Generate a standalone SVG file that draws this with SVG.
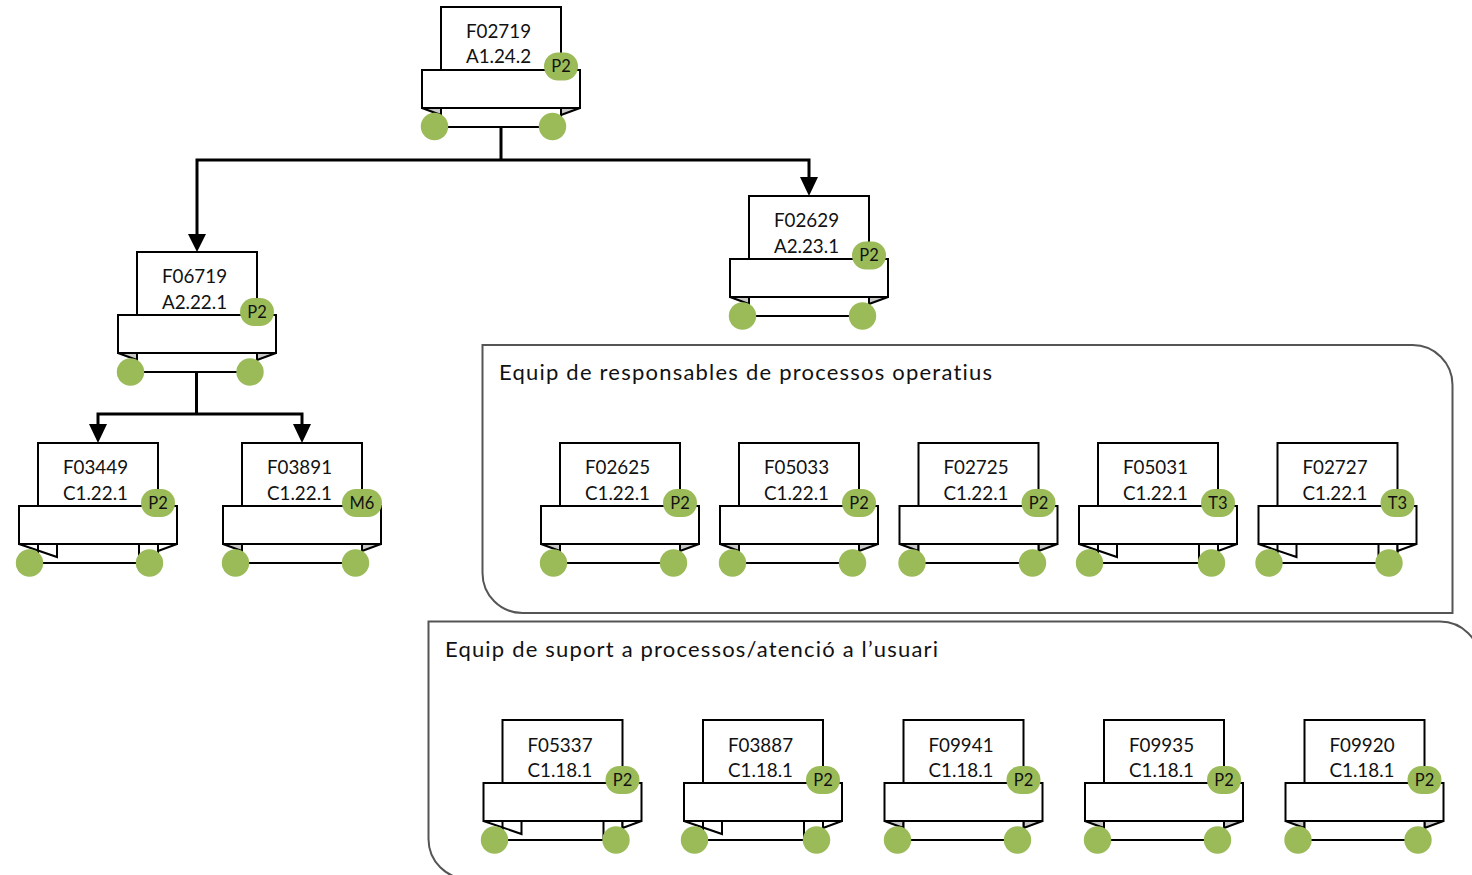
<svg xmlns="http://www.w3.org/2000/svg" xmlns:xlink="http://www.w3.org/1999/xlink" width="1472" height="875" viewBox="0 0 1472 875">
<style>
.s{fill:#fff;stroke:#000;stroke-width:2}
.f{fill:#c9c9c9;stroke:#000;stroke-width:2;stroke-linejoin:miter}
.w{fill:#fff;stroke:#000;stroke-width:2}
.p{fill:none;stroke:#555;stroke-width:2}
.g{fill:#9bbb59}
.c{fill:none;stroke:#000;stroke-width:3}
.h{fill:#000}
text{font-family:"Lato","Open Sans",sans-serif;fill:#111;font-variant-ligatures:none}
.t{font-size:18.800px;text-anchor:middle}
.b{font-size:16.500px;text-anchor:middle}
.l{font-size:22px}
</style>
<defs>
<g id="n">
<rect class="s" x="0" y="0" width="120" height="70"/>
<path class="f" d="M-19 101L0 108V101Z"/>
<path class="f" d="M139 101L120 108V101Z"/>
<path class="s" d="M0 101V120H120V101"/>
<rect class="s" x="-19" y="63" width="158" height="38"/>
</g>
<g id="m">
<rect class="s" x="0" y="0" width="120" height="70"/>
<path class="s" d="M0 101V120H120V101"/>
<path class="w" d="M-19 101L19 114V101Z"/>
<path class="s" d="M0 101V107.500"/>
<path class="w" d="M101 101V120M139 101L120 108V101Z"/>
<rect class="s" x="-19" y="63" width="158" height="38"/>
</g>
<circle id="d" class="g" r="13.700"/>
<rect id="p" class="g" x="-17" y="-14" width="34" height="28" rx="14"/>
</defs>
<g id="panel-operatius">
<path class="p" d="M482.500 345H1412.500A40 40 0 0 1 1452.500 385V613H522.500A40 40 0 0 1 482.500 573Z"/>
<text class="l" x="499" y="380" textLength="493">Equip de responsables de processos operatius</text>
</g>
<g id="panel-suport">
<path class="p" d="M1480 661.500A40 40 0 0 0 1440 621.500H428.500V839A40 40 0 0 0 468.500 879"/>
<text class="l" x="445" y="657" textLength="493">Equip de suport a processos/atenció a l’usuari</text>
</g>
<g id="connectors">
<path class="c" d="M501 126V160M197 236V160H809V180"/>
<path class="h" d="M188 234H206L197 252ZM800 177H818L809 196Z"/>
<path class="c" d="M196.500 372V414M98 428V414H302V428"/>
<path class="h" d="M89 424H107L98 443ZM293 424H311L302 443Z"/>
</g>
<g id="F02719" transform="translate(441,7)"><use href="#n"/><text class="t" x="57.500" y="31">F02719</text><text class="t" x="57.500" y="56">A1.24.2</text><use href="#p" x="120" y="59.500"/><text class="b" x="120" y="65">P2</text><use href="#d" x="-6.500" y="119.500"/><use href="#d" x="111.500" y="119.500"/></g>
<g id="F02629" transform="translate(749,196)"><use href="#n"/><text class="t" x="57.500" y="31">F02629</text><text class="t" x="57.500" y="57">A2.23.1</text><use href="#p" x="120" y="59.500"/><text class="b" x="120" y="65">P2</text><use href="#d" x="-6.500" y="120"/><use href="#d" x="113.500" y="120"/></g>
<g id="F06719" transform="translate(137,252)"><use href="#n"/><text class="t" x="57.500" y="31">F06719</text><text class="t" x="57.500" y="57">A2.22.1</text><use href="#p" x="120" y="60"/><text class="b" x="120" y="66">P2</text><use href="#d" x="-6.500" y="120"/><use href="#d" x="113" y="120"/></g>
<g id="F03449" transform="translate(38,443)"><use href="#m"/><text class="t" x="57.500" y="31">F03449</text><text class="t" x="57.500" y="57">C1.22.1</text><use href="#p" x="120" y="60"/><text class="b" x="120" y="66">P2</text><use href="#d" x="-8.500" y="120"/><use href="#d" x="111.500" y="120"/></g>
<g id="F03891" transform="translate(242,443)"><use href="#n"/><text class="t" x="57.500" y="31">F03891</text><text class="t" x="57.500" y="57">C1.22.1</text><rect class="g" x="100" y="46" width="40" height="28" rx="14"/><text class="b" x="120" y="66">M6</text><use href="#d" x="-6.500" y="120"/><use href="#d" x="113.500" y="120"/></g>
<g id="F02625" transform="translate(560,443)"><use href="#n"/><text class="t" x="57.500" y="31">F02625</text><text class="t" x="57.500" y="57">C1.22.1</text><use href="#p" x="120" y="60"/><text class="b" x="120" y="66">P2</text><use href="#d" x="-6.500" y="120"/><use href="#d" x="113.500" y="120"/></g>
<g id="F05033" transform="translate(739,443)"><use href="#n"/><text class="t" x="57.500" y="31">F05033</text><text class="t" x="57.500" y="57">C1.22.1</text><use href="#p" x="120" y="60"/><text class="b" x="120" y="66">P2</text><use href="#d" x="-6.500" y="120"/><use href="#d" x="113.500" y="120"/></g>
<g id="F02725" transform="translate(918.500,443)"><use href="#n"/><text class="t" x="57.500" y="31">F02725</text><text class="t" x="57.500" y="57">C1.22.1</text><use href="#p" x="120" y="60"/><text class="b" x="120" y="66">P2</text><use href="#d" x="-6.500" y="120"/><use href="#d" x="114" y="120"/></g>
<g id="F05031" transform="translate(1098,443)"><use href="#m"/><text class="t" x="57.500" y="31">F05031</text><text class="t" x="57.500" y="57">C1.22.1</text><use href="#p" x="120" y="60"/><text class="b" x="120" y="66">T3</text><use href="#d" x="-8.500" y="120"/><use href="#d" x="113.500" y="120"/></g>
<g id="F02727" transform="translate(1277.500,443)"><use href="#m"/><text class="t" x="57.500" y="31">F02727</text><text class="t" x="57.500" y="57">C1.22.1</text><use href="#p" x="120" y="60"/><text class="b" x="120" y="66">T3</text><use href="#d" x="-8.500" y="120"/><use href="#d" x="111.500" y="120"/></g>
<g id="F05337" transform="translate(502.500,720)"><use href="#m"/><text class="t" x="57.500" y="32">F05337</text><text class="t" x="57.500" y="57">C1.18.1</text><use href="#p" x="120" y="60"/><text class="b" x="120" y="66">P2</text><use href="#d" x="-8" y="120"/><use href="#d" x="113.500" y="120"/></g>
<g id="F03887" transform="translate(703,720)"><use href="#m"/><text class="t" x="57.500" y="32">F03887</text><text class="t" x="57.500" y="57">C1.18.1</text><use href="#p" x="120" y="60"/><text class="b" x="120" y="66">P2</text><use href="#d" x="-8.500" y="120"/><use href="#d" x="113.500" y="120"/></g>
<g id="F09941" transform="translate(903.500,720)"><use href="#n"/><text class="t" x="57.500" y="32">F09941</text><text class="t" x="57.500" y="57">C1.18.1</text><use href="#p" x="120" y="60"/><text class="b" x="120" y="66">P2</text><use href="#d" x="-6" y="120"/><use href="#d" x="114" y="120"/></g>
<g id="F09935" transform="translate(1104,720)"><use href="#n"/><text class="t" x="57.500" y="32">F09935</text><text class="t" x="57.500" y="57">C1.18.1</text><use href="#p" x="120" y="60"/><text class="b" x="120" y="66">P2</text><use href="#d" x="-6.500" y="120"/><use href="#d" x="113.500" y="120"/></g>
<g id="F09920" transform="translate(1304.500,720)"><use href="#n"/><text class="t" x="57.500" y="32">F09920</text><text class="t" x="57.500" y="57">C1.18.1</text><use href="#p" x="120" y="60"/><text class="b" x="120" y="66">P2</text><use href="#d" x="-6.500" y="120"/><use href="#d" x="113.500" y="120"/></g>
</svg>
